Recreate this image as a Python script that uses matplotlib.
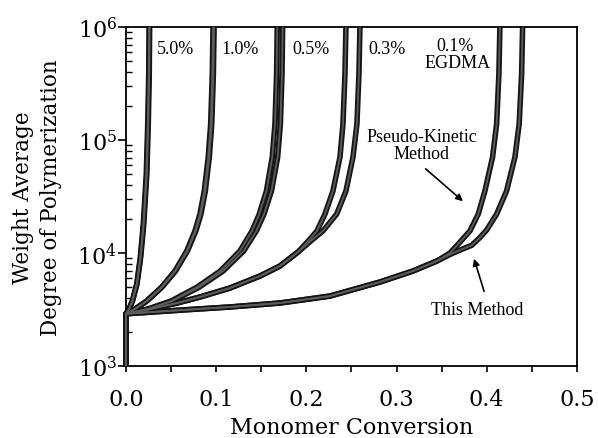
import numpy as np
import matplotlib
matplotlib.use('Agg')
import matplotlib.pyplot as plt
from matplotlib.ticker import MultipleLocator, LogLocator, NullFormatter

# ── data (conversion, DPw) ──────────────────────────────────────────────────
# 5.0 % EGDMA
conv_50_pk = [0.0, 0.0, 0.0033, 0.0070, 0.0119, 0.0159, 0.0192, 0.0225, 0.0241, 0.0252, 0.0256]
conv_50_tm = [0.0, 0.0, 0.0034, 0.0072, 0.0122, 0.0163, 0.0197, 0.0231, 0.0247, 0.0258, 0.0262]
dp_50      = [1e3, 2.9e3, 3.19e3, 3.76e3, 5.32e3, 9.2e3, 1.81e4, 5.0e4, 1.39e5, 3.84e5, 1e6]

# 1.0 % EGDMA
conv_10_pk = [0.0, 0.0, 0.0100, 0.0229, 0.0396, 0.0543, 0.0673, 0.0765, 0.0820, 0.0868, 0.0912, 0.0939, 0.0957, 0.0965]
conv_10_tm = [0.0, 0.0, 0.0100, 0.0231, 0.0400, 0.0549, 0.0681, 0.0775, 0.0831, 0.0880, 0.0924, 0.0951, 0.0969, 0.0977]
dp_10      = [1e3, 2.9e3, 3.19e3, 3.76e3, 5.0e3, 6.93e3, 1.04e4, 1.57e4, 2.21e4, 3.54e4, 7.07e4, 1.39e5, 3.84e5, 1e6]

# 0.5 % EGDMA
conv_05_pk = [0.0, 0.0, 0.0240, 0.0500, 0.0790, 0.1045, 0.1262, 0.1398, 0.1478, 0.1557, 0.1622, 0.1652, 0.1670, 0.1677]
conv_05_tm = [0.0, 0.0, 0.0248, 0.0514, 0.0814, 0.1077, 0.1304, 0.1446, 0.1530, 0.1613, 0.1682, 0.1712, 0.1730, 0.1737]
dp_05      = [1e3, 2.9e3, 3.19e3, 3.76e3, 5.0e3, 6.93e3, 1.04e4, 1.57e4, 2.21e4, 3.54e4, 7.07e4, 1.39e5, 3.84e5, 1e6]

# 0.3 % EGDMA
conv_03_pk = [0.0, 0.0, 0.0266, 0.0565, 0.0820, 0.1153, 0.1486, 0.1707, 0.1907, 0.2030,
              0.2118, 0.2206, 0.2295, 0.2373, 0.2406, 0.2428, 0.2439]
conv_03_tm = [0.0, 0.0, 0.0266, 0.0565, 0.0820, 0.1153, 0.1486, 0.1707, 0.1907, 0.2060,
              0.2184, 0.2336, 0.2439, 0.2517, 0.2561, 0.2583, 0.2594]
dp_03      = [1e3, 2.9e3, 3.19e3, 3.61e3, 4.08e3, 4.90e3, 6.26e3, 7.67e3, 1.02e4, 1.30e4,
              1.57e4, 2.21e4, 3.54e4, 7.07e4, 1.39e5, 3.84e5, 1e6]

# 0.1 % EGDMA
conv_01_pk = [0.0, 0.0, 0.0676, 0.1153, 0.1707, 0.2262, 0.2816, 0.3182, 0.3448, 0.3592,
              0.3684, 0.3814, 0.3906, 0.3980, 0.4065, 0.4110, 0.4135, 0.4146]
dp_01_pk   = [1e3, 2.9e3, 3.15e3, 3.33e3, 3.61e3, 4.16e3, 5.54e3, 6.93e3, 8.5e3, 1.0e4,
              1.2e4, 1.57e4, 2.21e4, 3.54e4, 7.07e4, 1.39e5, 3.84e5, 1e6]
conv_01_tm = [0.0, 0.0, 0.0676, 0.1153, 0.1707, 0.2262, 0.2816, 0.3182, 0.3448, 0.3592,
              0.3700, 0.3833, 0.3920, 0.4000, 0.4110, 0.4220, 0.4313, 0.4360, 0.4387, 0.4398]
dp_01_tm   = [1e3, 2.9e3, 3.15e3, 3.33e3, 3.61e3, 4.16e3, 5.54e3, 6.93e3, 8.5e3, 9.7e3,
              1.06e4, 1.17e4, 1.36e4, 1.6e4, 2.21e4, 3.54e4, 7.07e4, 1.39e5, 3.84e5, 1e6]

CURVES = [
    (conv_50_pk, dp_50), (conv_50_tm, dp_50),
    (conv_10_pk, dp_10), (conv_10_tm, dp_10),
    (conv_05_pk, dp_05), (conv_05_tm, dp_05),
    (conv_03_pk, dp_03), (conv_03_tm, dp_03),
    (conv_01_pk, dp_01_pk), (conv_01_tm, dp_01_tm),
]

# concentration labels: (text, x, y, ha)
CONC_LABELS = [
    ('5.0%', 0.0344, 6.5e5, 'left'),
    ('1.0%', 0.106, 6.5e5, 'left'),
    ('0.5%', 0.184, 6.5e5, 'left'),
    ('0.3%', 0.269, 6.5e5, 'left'),
    ('0.1%', 0.365, 6.9e5, 'center'),
    ('EGDMA', 0.368, 4.9e5, 'center'),
]

plt.rcParams['font.family'] = 'DejaVu Serif'
plt.rcParams['mathtext.fontset'] = 'dejavuserif'

fig = plt.figure(figsize=(5.98, 4.39), dpi=100)
ax = fig.add_axes([0.2107, 0.164, 0.754, 0.772])

# dark outline first, grey core on top so overlapping pairs merge into a band
for x, y in CURVES:
    ax.plot(x, y, color='#151515', lw=4.0, solid_joinstyle='round',
            solid_capstyle='butt', clip_on=False, zorder=2)
for x, y in CURVES:
    ax.plot(x, y, color='#5c5c5c', lw=1.3, solid_joinstyle='round',
            solid_capstyle='butt', clip_on=False, zorder=3)

ax.set_yscale('log')
ax.set_xlim(0, 0.5)
ax.set_ylim(1e3, 1e6)

ax.xaxis.set_major_locator(MultipleLocator(0.1))
ax.xaxis.set_minor_locator(MultipleLocator(0.05))
ax.xaxis.set_major_formatter(plt.FormatStrFormatter('%.1f'))
ax.yaxis.set_major_locator(LogLocator(base=10))
ax.yaxis.set_minor_locator(LogLocator(base=10, subs=np.arange(2, 10)))
ax.yaxis.set_minor_formatter(NullFormatter())

ax.tick_params(axis='x', which='both', direction='out', length=4.5, width=1.2,
               labelsize=16, pad=11)
ax.tick_params(axis='y', which='major', direction='out', length=5.5, width=1.2,
               labelsize=16, pad=1)
ax.tick_params(axis='y', which='minor', direction='in', length=4, width=1.0)
for s in ax.spines.values():
    s.set_linewidth(1.3)

ax.set_xlabel('Monomer Conversion', fontsize=16, labelpad=5)
ax.set_ylabel('Weight Average\nDegree of Polymerization', fontsize=15.5,
              linespacing=1.35, labelpad=11)

for txt, x, y, ha in CONC_LABELS:
    ax.text(x, y, txt, ha=ha, va='center', fontsize=13,
            family='Liberation Serif', zorder=4)

ax.text(0.328, 9.0e4, 'Pseudo-Kinetic\nMethod', ha='center', va='center',
        fontsize=13, family='Liberation Serif', linespacing=1.0)
ax.annotate('', xy=(0.376, 2.77e4), xytext=(0.330, 5.77e4),
            arrowprops=dict(arrowstyle='-|>', color='black', lw=1.2,
                            mutation_scale=10))
ax.text(0.389, 3.19e3, 'This Method', ha='center', va='center',
        fontsize=13, family='Liberation Serif')
ax.annotate('', xy=(0.385, 9.4e3), xytext=(0.398, 4.34e3),
            arrowprops=dict(arrowstyle='-|>', color='black', lw=1.2,
                            mutation_scale=10))

fig.savefig('out.png', dpi=100, facecolor='white')
